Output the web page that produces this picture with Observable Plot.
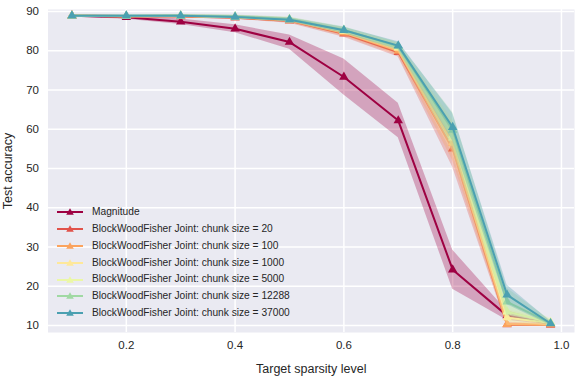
<!DOCTYPE html>
<html><head><meta charset="utf-8">
<script src="https://cdn.jsdelivr.net/npm/d3@7"></script>
<script src="https://cdn.jsdelivr.net/npm/@observablehq/plot@0.6"></script>
<style>
body{margin:0;background:#fff;font-family:"Liberation Sans",Arial,sans-serif}
#wrap{position:relative;width:582px;height:377px}
#legend{position:absolute;left:54px;top:204px;font-size:10.2px;color:#262626;line-height:1}
.row{display:flex;align-items:center;height:16.8px;white-space:nowrap}
.row svg{margin-right:6px}
</style></head><body><div id="wrap"></div>
<script>
const sparsity = [0.1, 0.2, 0.3, 0.4, 0.5, 0.6, 0.7, 0.8, 0.9, 0.98];
const seriesNames = [
  "Magnitude",
  "BlockWoodFisher Joint: chunk size = 20",
  "BlockWoodFisher Joint: chunk size = 100",
  "BlockWoodFisher Joint: chunk size = 1000",
  "BlockWoodFisher Joint: chunk size = 5000",
  "BlockWoodFisher Joint: chunk size = 12288",
  "BlockWoodFisher Joint: chunk size = 37000"
];
const magnitude   = [88.9, 88.5, 87.4, 85.6, 82.2, 73.3, 62.2, 24.2, 12.5, 10.4];
const magnitudeSd = [0.3, 0.5, 0.7, 1.0, 1.8, 4.6, 4.4, 5.0, 1.2, 0.3];
const chunk20     = [88.9, 88.8, 88.7, 88.4, 87.6, 84.3, 79.6, 55.0, 10.2, 10.1];
const chunk20Sd   = [0.2, 0.2, 0.3, 0.4, 0.6, 0.9, 1.2, 4.7, 0.5, 0.3];
const chunk100    = [88.9, 88.8, 88.8, 88.5, 87.7, 84.6, 80.0, 56.5, 10.3, 10.2];
const chunk100Sd  = [0.2, 0.2, 0.3, 0.4, 0.6, 0.9, 1.2, 4.5, 0.6, 0.3];
const chunk1000   = [88.9, 88.8, 88.9, 88.6, 87.9, 85.0, 80.7, 57.8, 12.0, 10.6];
const chunk1000Sd = [0.2, 0.2, 0.3, 0.4, 0.5, 0.8, 1.1, 4.0, 2.0, 0.9];
const chunk5000   = [88.9, 88.8, 88.9, 88.6, 88.0, 85.1, 81.0, 58.5, 13.5, 10.8];
const chunk5000Sd = [0.2, 0.2, 0.3, 0.4, 0.5, 0.8, 1.0, 4.0, 2.5, 1.0];
const chunk12288  = [88.9, 88.9, 88.9, 88.7, 88.0, 85.3, 81.1, 59.8, 16.0, 10.6];
const chunk12288Sd= [0.2, 0.2, 0.3, 0.4, 0.5, 0.8, 1.0, 4.5, 3.5, 0.7];
const chunk37000  = [88.9, 88.9, 88.9, 88.6, 87.9, 85.2, 81.3, 60.5, 17.8, 10.5];
const chunk37000Sd= [0.2, 0.2, 0.3, 0.4, 0.5, 0.8, 1.0, 3.5, 2.5, 0.5];
const xTicks = [0.2, 0.4, 0.6, 0.8, 1.0];
const yTicks = [10, 20, 30, 40, 50, 60, 70, 80, 90];

const means = [magnitude, chunk20, chunk100, chunk1000, chunk5000, chunk12288, chunk37000];
const sds = [magnitudeSd, chunk20Sd, chunk100Sd, chunk1000Sd, chunk5000Sd, chunk12288Sd, chunk37000Sd];
const colors = seriesNames.map((_, i) => d3.interpolateSpectral(i / 7));

const marks = [
  Plot.frame({fill: "#EAEAF2", stroke: "none"}),
  Plot.gridX(xTicks, {stroke: "white", strokeOpacity: 1, strokeWidth: 1.5}),
  Plot.gridY(yTicks, {stroke: "white", strokeOpacity: 1, strokeWidth: 1.5})
];
seriesNames.forEach((name, i) => {
  const rows = sparsity.map((x, j) => ({x, y: means[i][j], lo: means[i][j] - sds[i][j], hi: means[i][j] + sds[i][j]}));
  marks.push(Plot.areaY(rows, {x: "x", y1: "lo", y2: "hi", fill: colors[i], fillOpacity: 0.3}));
  marks.push(Plot.line(rows, {x: "x", y: "y", stroke: colors[i], strokeWidth: 2}));
  marks.push(Plot.dot(rows, {x: "x", y: "y", symbol: "triangle", r: 3.5, fill: colors[i], stroke: "none"}));
});

const chart = Plot.plot({
  width: 582, height: 377,
  marginLeft: 47.5, marginRight: 8, marginTop: 9, marginBottom: 45,
  style: {fontSize: "11.5px", fontFamily: "Liberation Sans, Arial, sans-serif", color: "#262626", background: "white"},
  x: {domain: [0.056, 1.024], ticks: xTicks, tickFormat: d3.format(".1f"), tickSize: 0, tickPadding: 8,
      label: "Target sparsity level", labelAnchor: "center", labelArrow: "none", labelOffset: 40},
  y: {domain: [8.2, 90.5], ticks: yTicks, tickSize: 0, tickPadding: 9,
      label: "Test accuracy", labelAnchor: "center", labelArrow: "none", labelOffset: 45},
  marks
});
chart.querySelectorAll("[aria-label$='axis label'] text, [aria-label$='axis label']").forEach(t => t.setAttribute("font-size", "12.5px"));
const wrap = document.getElementById("wrap");
wrap.appendChild(chart);

const legend = document.createElement("div");
legend.id = "legend";
seriesNames.forEach((name, i) => {
  const row = document.createElement("div");
  row.className = "row";
  row.innerHTML = `<svg width="32" height="10"><line x1="3" y1="5" x2="29" y2="5" stroke="${colors[i]}" stroke-width="2"/><path d="M16,1.2 L19.8,7.8 L12.2,7.8 Z" fill="${colors[i]}"/></svg><span>${name}</span>`;
  legend.appendChild(row);
});
wrap.appendChild(legend);
</script>
</body></html>
